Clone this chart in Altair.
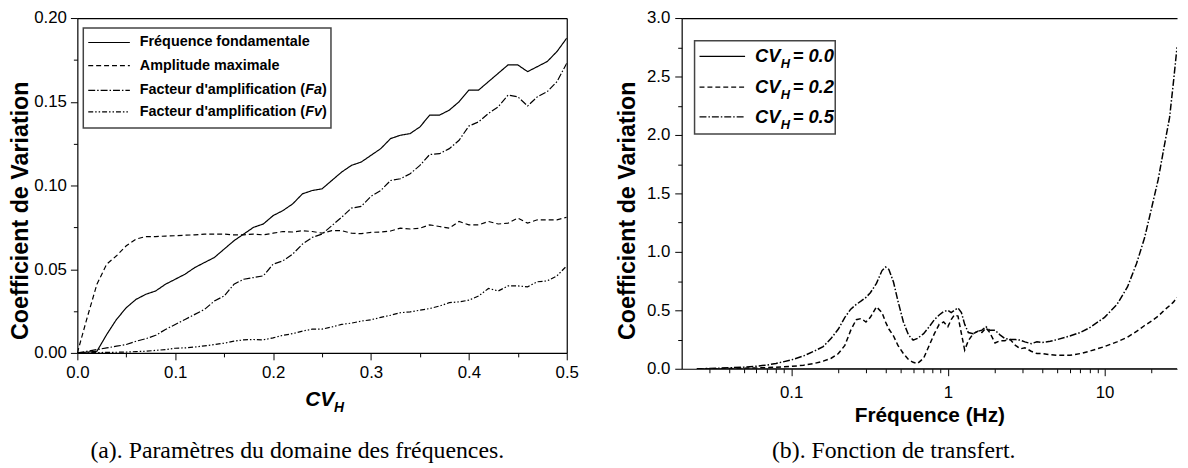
import altair as alt
import pandas as pd

SANS = "Liberation Sans"
SERIF = "Liberation Serif"

# ---------------- panel (a) data ----------------
cv_h = [0.00, 0.01, 0.02, 0.03, 0.04, 0.05, 0.06, 0.07, 0.08, 0.09,
        0.10, 0.11, 0.12, 0.13, 0.14, 0.15, 0.16, 0.17, 0.18, 0.19,
        0.20, 0.21, 0.22, 0.23, 0.24, 0.25, 0.26, 0.27, 0.28, 0.29,
        0.30, 0.31, 0.32, 0.33, 0.34, 0.35, 0.36, 0.37, 0.38, 0.39,
        0.40, 0.41, 0.42, 0.43, 0.44, 0.45, 0.46, 0.47, 0.48, 0.49, 0.50]
freq_fond = [0.000, 0.0005, 0.001, 0.011, 0.020, 0.027, 0.032, 0.035, 0.037, 0.041,
             0.044, 0.047, 0.051, 0.054, 0.057, 0.062, 0.067, 0.071, 0.075, 0.077,
             0.082, 0.085, 0.089, 0.095, 0.097, 0.098, 0.103, 0.108, 0.112, 0.114,
             0.118, 0.122, 0.128, 0.130, 0.131, 0.135, 0.142, 0.142, 0.145, 0.150,
             0.157, 0.157, 0.162, 0.167, 0.172, 0.172, 0.168, 0.171, 0.174, 0.180, 0.188]
ampl_max = [0.000, 0.021, 0.041, 0.053, 0.058, 0.064, 0.068, 0.0695, 0.0695, 0.0698,
            0.070, 0.0703, 0.0705, 0.071, 0.071, 0.071, 0.0705, 0.0705, 0.071, 0.0705,
            0.0715, 0.0725, 0.0722, 0.073, 0.0725, 0.0715, 0.073, 0.073, 0.0715, 0.0712,
            0.072, 0.0722, 0.0728, 0.0745, 0.074, 0.0745, 0.0765, 0.0755, 0.0745, 0.0785,
            0.0765, 0.0765, 0.0785, 0.077, 0.0775, 0.0805, 0.0775, 0.0795, 0.0795, 0.0795, 0.081]
fact_fa = [0.000, 0.001, 0.002, 0.003, 0.004, 0.005, 0.007, 0.0085, 0.0105, 0.014,
           0.017, 0.020, 0.023, 0.026, 0.031, 0.034, 0.041, 0.044, 0.045, 0.046,
           0.053, 0.055, 0.059, 0.065, 0.069, 0.071, 0.076, 0.081, 0.0865, 0.0875,
           0.0935, 0.097, 0.103, 0.104, 0.107, 0.112, 0.1185, 0.119, 0.122, 0.127,
           0.1355, 0.138, 0.143, 0.147, 0.154, 0.153, 0.1475, 0.153, 0.156, 0.162, 0.173]
fact_fv = [0.000, 0.0001, 0.0002, 0.0003, 0.0004, 0.0005, 0.0008, 0.001, 0.0015, 0.002,
           0.0028, 0.003, 0.0035, 0.0042, 0.005, 0.0058, 0.007, 0.0078, 0.008, 0.0078,
           0.009, 0.0105, 0.0115, 0.013, 0.0142, 0.0142, 0.0155, 0.017, 0.0178, 0.019,
           0.0198, 0.0212, 0.0225, 0.024, 0.0245, 0.0255, 0.0265, 0.028, 0.030, 0.0305,
           0.0315, 0.034, 0.0385, 0.037, 0.040, 0.040, 0.0395, 0.0425, 0.043, 0.046, 0.052]

left_names = ["Fréquence fondamentale", "Amplitude maximale",
              "Facteur d'amplification (", "Facteur d'amplification ("]
left_italic = ["", "", "Fa", "Fv"]
left_dashes = [[1, 0], [5, 3], [7, 2, 1.5, 2], [5, 2, 1.5, 2, 1.5, 2]]

# ---------------- panel (b) data ----------------
freq = [0.025, 0.03, 0.04, 0.05, 0.06, 0.07, 0.08, 0.1, 0.12, 0.14,
        0.16, 0.18, 0.2, 0.22, 0.24, 0.26, 0.28, 0.3, 0.32, 0.35,
        0.38, 0.4, 0.42, 0.45, 0.48, 0.52, 0.56, 0.6, 0.64, 0.7,
        0.76, 0.82, 0.88, 0.94, 1.0, 1.05, 1.1, 1.16, 1.22, 1.28,
        1.35, 1.45, 1.55, 1.65, 1.75, 1.85, 2.0, 2.15, 2.3, 2.5,
        2.7, 2.9, 3.1, 3.4, 3.7, 4.0, 4.5, 5, 6, 7,
        8, 10, 12, 14, 16, 18, 20, 22, 24, 26,
        27.5, 29]
cv_02 = [0.0, 0.0, 0.002, 0.005, 0.007, 0.01, 0.013, 0.02, 0.03, 0.045,
         0.065, 0.09, 0.13, 0.2, 0.33, 0.42, 0.43, 0.40, 0.44, 0.53,
         0.48, 0.40, 0.34, 0.28, 0.20, 0.13, 0.08, 0.055, 0.045, 0.09,
         0.20, 0.30, 0.38, 0.40, 0.36, 0.42, 0.46, 0.45, 0.30, 0.16,
         0.24, 0.30, 0.32, 0.31, 0.35, 0.31, 0.22, 0.24, 0.24, 0.25,
         0.20, 0.17, 0.18, 0.15, 0.13, 0.13, 0.12, 0.115, 0.115, 0.13,
         0.15, 0.19, 0.23, 0.27, 0.32, 0.37, 0.41, 0.45, 0.50, 0.54,
         0.57, 0.61]
cv_05 = [0.0, 0.002, 0.008, 0.014, 0.022, 0.032, 0.045, 0.075, 0.11, 0.15,
         0.19, 0.26, 0.34, 0.44, 0.51, 0.55, 0.58, 0.61, 0.65, 0.73,
         0.84, 0.87, 0.85, 0.74, 0.58, 0.40, 0.29, 0.245, 0.26, 0.30,
         0.36, 0.42, 0.46, 0.49, 0.50, 0.48, 0.50, 0.52, 0.48, 0.38,
         0.31, 0.30, 0.32, 0.33, 0.36, 0.33, 0.33, 0.29, 0.26, 0.25,
         0.25, 0.245, 0.23, 0.215, 0.23, 0.225, 0.235, 0.25, 0.28, 0.31,
         0.35, 0.44, 0.55, 0.70, 0.90, 1.12, 1.38, 1.62, 1.90, 2.15,
         2.45, 2.75]
freq_00 = [0.025, 0.1, 1, 10, 29]
cv_00 = [0.0, 0.0, 0.0, 0.0, 0.0]

right_values = ["0.0", "0.2", "0.5"]
right_dashes = [[1, 0], [5, 3], [7, 2, 1.5, 2]]

caption_a = "(a). Paramètres du domaine des fréquences."
caption_b = "(b). Fonction de transfert."

# ---------------- tables ----------------
left_series = [freq_fond, ampl_max, fact_fa, fact_fv]
left_keys = ["freq", "ampl", "fa", "fv"]
rows = []
for key, vals in zip(left_keys, left_series):
    for x, v in zip(cv_h, vals):
        rows.append({"cv": x, "val": v, "series": key})
left_df = pd.DataFrame(rows)

rows = []
for key, xs, vals in [("0.0", freq_00, cv_00), ("0.2", freq, cv_02), ("0.5", freq, cv_05)]:
    for x, v in zip(xs, vals):
        rows.append({"f": x, "val": v, "series": key})
right_df = pd.DataFrame(rows)

one = pd.DataFrame({"k": [0]})


def txt(s, x, y, size, weight="bold", style="normal", font=SANS, align="left", baseline="middle"):
    return alt.Chart(one).mark_text(
        text=s, font=font, fontSize=size, fontWeight=weight, fontStyle=style,
        align=align, baseline=baseline, color="black"
    ).encode(x=alt.value(x), y=alt.value(y))


def hline(x1, x2, y, dash):
    return alt.Chart(one).mark_rule(color="black", strokeWidth=1.2, strokeDash=dash).encode(
        x=alt.value(x1), x2=alt.value(x2), y=alt.value(y))


def box(x1, x2, y1, y2):
    return alt.Chart(one).mark_rect(fill="white", stroke="#444444", strokeWidth=1.5).encode(
        x=alt.value(x1), x2=alt.value(x2), y=alt.value(y1), y2=alt.value(y2))


YT = 23.5  # y-axis title font size

# ---------------- panel (a) ----------------
LW, LH = 494, 338
lx_scale = alt.Scale(domain=[0, 0.5], nice=False, zero=False)
ly_scale = alt.Scale(domain=[0, 0.2], nice=False)

left_lines = alt.Chart(left_df).mark_line(color="black", strokeWidth=1.2, clip=True).encode(
    x=alt.X("cv:Q", scale=lx_scale,
            axis=alt.Axis(orient="bottom", values=[0, 0.1, 0.2, 0.3, 0.4, 0.5], format=".1f",
                          tickSize=7, labelPadding=5, labelFlush=False, title=None)),
    y=alt.Y("val:Q", scale=ly_scale,
            axis=alt.Axis(orient="left", values=[0, 0.05, 0.1, 0.15, 0.2], format=".2f",
                          tickSize=7, labelPadding=4, labelFlush=False,
                          title="Coefficient de Variation", titleFontSize=YT,
                          titlePadding=1.5, titleY=194)),
    strokeDash=alt.StrokeDash("series:N", scale=alt.Scale(domain=left_keys, range=left_dashes),
                              legend=None),
)
left_minor = alt.Chart(left_df).mark_point(opacity=0).encode(
    x=alt.X("cv:Q", axis=alt.Axis(orient="bottom", values=[0.05, 0.15, 0.25, 0.35, 0.45],
                                  labels=False, domain=False, tickSize=4, title=None)),
    y=alt.Y("val:Q", axis=alt.Axis(orient="left", values=[0.025, 0.075, 0.125, 0.175],
                                   labels=False, domain=False, tickSize=4, title=None)),
)
left_border = alt.Chart(left_df).mark_point(opacity=0).encode(
    x=alt.X("cv:Q", axis=alt.Axis(orient="top", labels=False, ticks=False, domain=True, title=None)),
    y=alt.Y("val:Q", axis=alt.Axis(orient="right", labels=False, ticks=False, domain=True, title=None)),
)

left_layers = [left_lines, left_minor, left_border, box(6, 256, 10, 111)]
left_rows_y = [24.7, 48, 73, 94.7]
for name, ital, dash, yc in zip(left_names, left_italic, left_dashes, left_rows_y):
    left_layers.append(hline(11, 53, yc, dash))
    left_layers.append(txt(name, 63, yc, 14.5))
    if ital:
        left_layers.append(txt(ital, 230, yc, 14.5, style="italic"))
        left_layers.append(txt(")", 247, yc, 14.5))
# x-axis title CV_H
left_layers.append(txt("CV", 230, 386, 21, style="italic"))
left_layers.append(txt("H", 259, 394, 14, style="italic"))
left_layers.append(txt(caption_a, 222, 444, 24, weight="normal", font=SERIF,
                       align="center", baseline="alphabetic"))

left = alt.layer(*left_layers).resolve_axis(x="independent", y="independent").properties(
    width=LW, height=LH)

# ---------------- panel (b) ----------------
RW, RH = 500, 354
rx_scale = alt.Scale(type="log", domain=[0.02, 29], nice=False)
ry_scale = alt.Scale(domain=[0, 3], nice=False)

right_lines = alt.Chart(right_df).mark_line(color="black", strokeWidth=1.5, clip=True).encode(
    x=alt.X("f:Q", scale=rx_scale,
            axis=alt.Axis(orient="bottom", values=[0.1, 1, 10], format="~g", labelFlush=False,
                          tickSize=7, labelPadding=9, title="Fréquence (Hz)",
                          titleFontSize=21, titlePadding=4)),
    y=alt.Y("val:Q", scale=ry_scale,
            axis=alt.Axis(orient="left", values=[0, 0.5, 1, 1.5, 2, 2.5, 3], format=".1f",
                          tickSize=7, labelPadding=5, labelFlush=False,
                          title="Coefficient de Variation", titleFontSize=YT,
                          titlePadding=7, titleY=194)),
    strokeDash=alt.StrokeDash("series:N", scale=alt.Scale(domain=right_values, range=right_dashes),
                              legend=None),
)
minor_f = [0.03, 0.04, 0.05, 0.06, 0.07, 0.08, 0.09,
           0.2, 0.3, 0.4, 0.5, 0.6, 0.7, 0.8, 0.9,
           2, 3, 4, 5, 6, 7, 8, 9, 20]
right_minor = alt.Chart(right_df).mark_point(opacity=0).encode(
    x=alt.X("f:Q", axis=alt.Axis(orient="bottom", values=minor_f, labels=False, domain=False,
                                 tickSize=4, title=None)),
    y=alt.Y("val:Q", axis=alt.Axis(orient="left", values=[0.25, 0.75, 1.25, 1.75, 2.25, 2.75],
                                   labels=False, domain=False, tickSize=4, title=None)),
)
right_border = alt.Chart(right_df).mark_point(opacity=0).encode(
    x=alt.X("f:Q", axis=alt.Axis(orient="top", labels=False, ticks=False, domain=True, title=None)),
    y=alt.Y("val:Q", axis=None),
)

right_layers = [right_lines, right_minor, right_border, box(13, 155, 23, 117)]
right_rows_y = [38.7, 69.7, 99.7]
for v, dash, yc in zip(right_values, right_dashes, right_rows_y):
    right_layers.append(hline(18, 64, yc, dash))
    right_layers.append(txt("CV", 74, yc, 18.5, style="italic"))
    right_layers.append(txt("H", 100, yc + 8, 13, style="italic"))
    right_layers.append(txt("= " + v, 112, yc, 18.5, style="italic"))
right_layers.append(txt(caption_b, 214, 444, 24, weight="normal", font=SERIF,
                        align="center", baseline="alphabetic"))

right = alt.layer(*right_layers).resolve_axis(x="independent", y="independent").properties(
    width=RW, height=RH)

chart = alt.hconcat(left, right, spacing=37).properties(
    padding={"left": 0, "top": -1, "right": 0, "bottom": 0},
    background="white",
).configure_view(stroke=None).configure_axis(
    labelFont=SANS, labelFontSize=17, labelColor="black",
    titleFont=SANS, titleFontSize=22, titleFontWeight="bold", titleColor="black",
    domainColor="black", tickColor="black", domainWidth=1.2, tickWidth=1, grid=False,
)

chart.save("out.html", embed_options={"renderer": "svg", "actions": False})
